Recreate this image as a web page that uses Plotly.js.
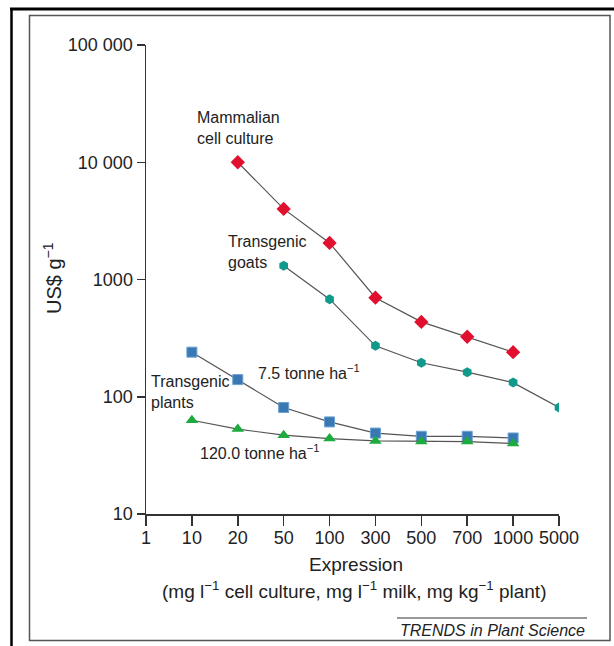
<!DOCTYPE html>
<html>
<head>
<meta charset="utf-8">
<script src="https://cdn.plot.ly/plotly-3.0.1.min.js"></script>
<style>html,body{margin:0;padding:0;background:#fff;}#chart{width:614px;height:646px;}</style>
</head>
<body>
<div id="chart"></div>
<script>
// ---- data ----
const categories = ["1","10","20","50","100","300","500","700","1000","5000"];
const yTickVals = [10, 100, 1000, 10000, 100000];
const yTickText = ["10", "100", "1000", "10 000", "100 000"];

const mammalianX = ["20","50","100","300","500","700","1000"];
const mammalianY = [10000, 4000, 2050, 700, 435, 325, 240];

const goatsX = ["50","100","300","500","700","1000","5000"];
const goatsY = [1310, 680, 272, 195, 162, 132, 81];

const plants75X = ["10","20","50","100","300","500","700","1000"];
const plants75Y = [240, 140, 81, 61, 49, 46, 46, 44.5];

const plants120X = ["10","20","50","100","300","500","700","1000"];
const plants120Y = [63, 53, 47, 44, 42, 41.5, 41.5, 40];

// ---- layout helpers (pixel -> paper) ----
const W = 614, H = 646;
const L = 146, R = 55, T = 45, B = 132;
const pw = W - L - R, ph = H - T - B;
const px = x => (x - L) / pw;
const py = y => (H - B - y) / ph;

const idx = arr => arr.map(c => categories.indexOf(c));
const lineStyle = {color: '#555', width: 1.2};
const FONT = 'Liberation Sans, Arial, sans-serif';

const traces = [
  {x: idx(mammalianX), y: mammalianY, mode: 'lines+markers', line: lineStyle,
   marker: {symbol: 'diamond', size: 11, color: '#e2102f', line: {width: 0}}},
  {x: idx(goatsX), y: goatsY, mode: 'lines+markers', line: lineStyle,
   marker: {symbol: 'hexagon', size: 10, color: '#109a8c', line: {width: 0}}},
  {x: idx(plants75X), y: plants75Y, mode: 'lines+markers', line: lineStyle,
   marker: {symbol: 'square', size: 10, color: '#3a78b4', line: {width: 1, color: '#6aa0d0'}}},
  {x: idx(plants120X), y: plants120Y, mode: 'lines+markers', line: lineStyle,
   marker: {symbol: 'triangle-up', size: 11, color: '#1daa3e', line: {width: 0}}}
];

const txt = {family: FONT, size: 16, color: '#222'};
const ann = (x, y, text, opts) => Object.assign({
  xref: 'paper', yref: 'paper', x: px(x), y: py(y), text: text, showarrow: false,
  xanchor: 'left', yanchor: 'middle', align: 'left', font: txt
}, opts || {});

const layout = {
  width: W, height: H,
  margin: {l: L, r: R, t: T, b: B, pad: 0},
  paper_bgcolor: '#ffffff', plot_bgcolor: 'rgba(0,0,0,0)',
  showlegend: false,
  xaxis: {
    range: [0, categories.length - 1], tickmode: 'array',
    tickvals: categories.map((c, i) => i), ticktext: categories,
    showgrid: false, zeroline: false, showline: true, linecolor: '#333', linewidth: 1.5,
    ticks: 'outside', ticklen: 10, tickwidth: 1.5, tickcolor: '#333',
    ticklabelstandoff: -3,
    tickfont: {family: FONT, size: 18, color: '#222'}
  },
  yaxis: {
    type: 'log', range: [1, 5], tickmode: 'array',
    tickvals: yTickVals, ticktext: yTickText,
    showgrid: false, zeroline: false, showline: true, linecolor: '#333', linewidth: 1.5,
    ticks: 'outside', ticklen: 8, tickwidth: 1.5, tickcolor: '#333',
    tickfont: {family: FONT, size: 18, color: '#222'}
  },
  shapes: [
    // outer black frame (top and left)
    {type: 'line', xref: 'paper', yref: 'paper', x0: px(10), x1: px(614), y0: py(9), y1: py(9), line: {color: '#000', width: 3}},
    {type: 'line', xref: 'paper', yref: 'paper', x0: px(11.5), x1: px(11.5), y0: py(8), y1: py(646), line: {color: '#000', width: 2.5}},
    // inner grey frame
    {type: 'rect', xref: 'paper', yref: 'paper', x0: px(29.5), x1: px(610), y0: py(15.5), y1: py(640.5), line: {color: '#555', width: 1.5}},
    // source rule
    {type: 'line', xref: 'paper', yref: 'paper', x0: px(397), x1: px(587), y0: py(618), y1: py(618), line: {color: '#333', width: 1}}
  ],
  annotations: [
    ann(195, 128, 'Mammalian<br>cell culture'),
    ann(226, 252, 'Transgenic<br>goats'),
    ann(256, 372, '7.5 tonne ha<sup>−1</sup>'),
    ann(149, 392, 'Transgenic<br>plants'),
    ann(198, 452, '120.0 tonne ha<sup>−1</sup>'),
    ann(356, 564, 'Expression', {xanchor: 'center', align: 'center', font: {family: FONT, size: 19, color: '#222'}}),
    ann(354, 590, '(mg l<sup>−1</sup> cell culture, mg l<sup>−1</sup> milk, mg kg<sup>−1</sup> plant)', {xanchor: 'center', align: 'center', font: {family: FONT, size: 19, color: '#222'}}),
    ann(52, 278, 'US$ g<sup>−1</sup>', {xanchor: 'center', textangle: -90, font: {family: FONT, size: 20, color: '#222'}}),
    ann(587, 630, '<i>TRENDS in Plant Science</i>', {xanchor: 'right', align: 'right', font: {family: FONT, size: 16, color: '#222'}})
  ]
};

Plotly.newPlot('chart', traces, layout, {displayModeBar: false, staticPlot: true});
</script>
</body>
</html>
